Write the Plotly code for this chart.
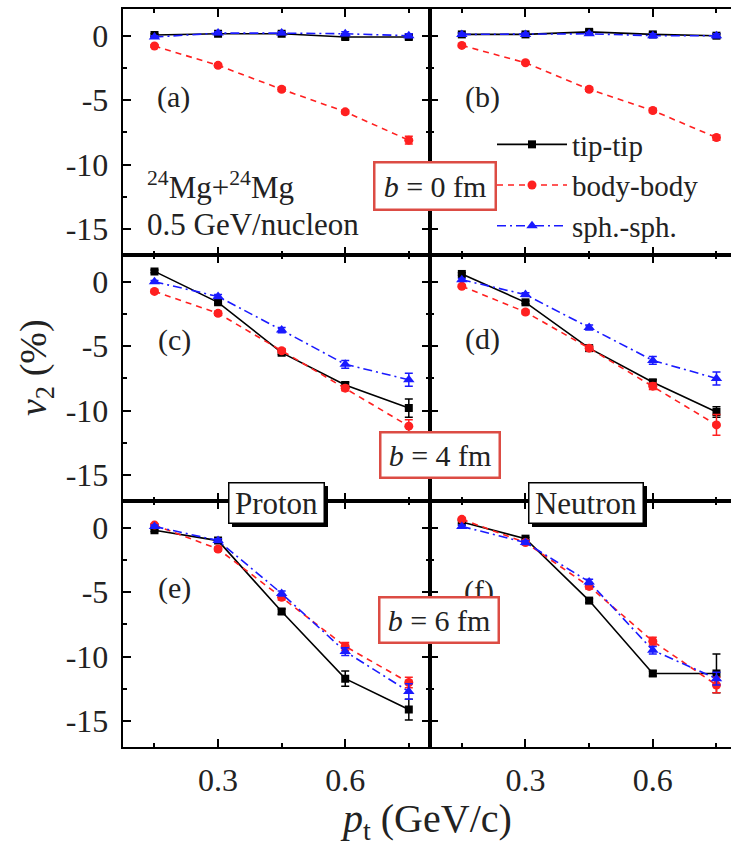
import plotly.graph_objects as go
from plotly.subplots import make_subplots

W, H = 731, 847

pt = [0.15, 0.30, 0.45, 0.60, 0.75]

# v2 (%), one list per panel and collision orientation
tip_a = [0.05, 0.15, 0.15, -0.1, -0.1]
body_a = [-0.8, -2.3, -4.15, -5.9, -8.1]
sph_a = [-0.1, 0.2, 0.2, 0.15, 0.0]

tip_b = [0.1, 0.1, 0.3, 0.1, 0.0]
body_b = [-0.75, -2.1, -4.15, -5.8, -7.9]
sph_b = [0.1, 0.1, 0.15, 0.0, 0.0]

tip_c = [0.8, -1.6, -5.5, -8.0, -9.8]
body_c = [-0.75, -2.45, -5.35, -8.25, -11.2]
sph_c = [0.0, -1.15, -3.75, -6.4, -7.6]

tip_d = [0.6, -1.6, -5.15, -7.8, -10.1]
body_d = [-0.35, -2.35, -5.15, -8.1, -11.1]
sph_d = [0.15, -1.0, -3.55, -6.1, -7.5]

tip_e = [-0.2, -1.0, -6.5, -11.7, -14.1]
body_e = [0.2, -1.65, -5.4, -9.2, -12.0]
sph_e = [0.1, -1.0, -5.1, -9.6, -12.7]

tip_f = [0.45, -0.85, -5.65, -11.3, -11.3]
body_f = [0.65, -1.15, -4.55, -8.8, -12.2]
sph_f = [0.1, -1.15, -4.2, -9.5, -11.7]

# error bars
err_tip = {"a": [0.1, 0.1, 0.1, 0.15, 0.15], "b": [0.1, 0.1, 0.15, 0.15, 0.15],
           "c": [0.1, 0.1, 0.15, 0.2, 0.7], "d": [0.1, 0.1, 0.15, 0.2, 0.4],
           "e": [0.1, 0.1, 0.2, 0.6, 0.8], "f": [0.1, 0.1, 0.15, 0.2, 1.5]}
err_body = {"a": [0.1, 0.1, 0.15, 0.15, 0.3], "b": [0.1, 0.1, 0.15, 0.15, 0.2],
            "c": [0.1, 0.15, 0.15, 0.2, 0.5], "d": [0.1, 0.15, 0.15, 0.25, 0.8],
            "e": [0.1, 0.15, 0.2, 0.3, 0.4], "f": [0.1, 0.15, 0.2, 0.3, 0.6]}
err_sph = {"a": [0.1, 0.1, 0.1, 0.15, 0.15], "b": [0.1, 0.1, 0.1, 0.15, 0.15],
           "c": [0.1, 0.15, 0.2, 0.3, 0.5], "d": [0.1, 0.15, 0.2, 0.3, 0.5],
           "e": [0.1, 0.15, 0.2, 0.3, 0.6], "f": [0.1, 0.15, 0.2, 0.3, 0.5]}

y_ticks = [-15, -10, -5, 0]
y_ticktext = ["-15", "-10", "-5", "0"]
x_ticks = [0.3, 0.6]
x_ticktext = ["0.3", "0.6"]

FONT = "Liberation Serif, Times New Roman, serif"


def px(x):
    return x / W


def py(y):
    return 1 - y / H


panels = [
    ("a", 1, 1, tip_a, body_a, sph_a),
    ("b", 1, 2, tip_b, body_b, sph_b),
    ("c", 2, 1, tip_c, body_c, sph_c),
    ("d", 2, 2, tip_d, body_d, sph_d),
    ("e", 3, 1, tip_e, body_e, sph_e),
    ("f", 3, 2, tip_f, body_f, sph_f),
]

fig = make_subplots(rows=3, cols=2, horizontal_spacing=0, vertical_spacing=0)

for key, r, c, tip, body, sph in panels:
    first = key == "a"
    fig.add_trace(go.Scatter(
        x=pt, y=tip, name="tip-tip", mode="lines+markers", showlegend=first,
        line=dict(color="black", width=1.6),
        marker=dict(symbol="square", size=8, color="black"),
        error_y=dict(type="data", array=err_tip[key], color="black", thickness=1.5, width=4),
    ), row=r, col=c)
    fig.add_trace(go.Scatter(
        x=pt, y=body, name="body-body", mode="lines+markers", showlegend=first,
        line=dict(color="#ff2020", width=1.6, dash="6px,5px"),
        marker=dict(symbol="circle", size=9, color="#ff2020"),
        error_y=dict(type="data", array=err_body[key], color="#ff2020", thickness=1.5, width=4),
    ), row=r, col=c)
    fig.add_trace(go.Scatter(
        x=pt, y=sph, name="sph.-sph.", mode="lines+markers", showlegend=first,
        line=dict(color="#1a1aff", width=1.6, dash="9px,4px,2px,4px"),
        marker=dict(symbol="triangle-up", size=10, color="#1a1aff"),
        error_y=dict(type="data", array=err_sph[key], color="#1a1aff", thickness=1.5, width=4),
    ), row=r, col=c)

# panel geometry in pixels
xl, xm, xr = 122.7, 430.0, 731.0
rows_px = [(9, 255), (255, 501), (501, 747)]
x_scale = 424.4  # px per GeV/c

for r, (top, bot) in enumerate(rows_px, start=1):
    for c in (1, 2):
        if c == 1:
            xdom = [px(xl), px(xm)]
            xrng = [0.075, 0.8]
        else:
            xdom = [px(xm), px(xr)]
            xrng = [0.075, 0.075 + (xr - xm) / x_scale]
        fig.update_xaxes(
            domain=xdom, range=xrng, row=r, col=c,
            showline=True, linecolor="black", linewidth=2, mirror="allticks",
            ticks="inside", ticklen=8, tickwidth=2, tickcolor="black",
            tickvals=x_ticks, ticktext=x_ticktext,
            minor=dict(ticks="inside", ticklen=4, tickwidth=1.5, tickcolor="black",
                       tickvals=[0.15, 0.45, 0.75]),
            showticklabels=(r == 3), showgrid=False, zeroline=False,
            tickfont=dict(size=32, color="#222", family=FONT),
            ticklabelstandoff=4, automargin=False,
        )
        fig.update_yaxes(
            domain=[py(bot), py(top)], range=[-17, 2.07], row=r, col=c,
            showline=True, linecolor="black", linewidth=2,
            mirror="allticks" if c == 1 else False,
            ticks="inside", ticklen=8, tickwidth=2, tickcolor="black",
            tickvals=y_ticks, ticktext=y_ticktext,
            minor=dict(ticks="inside", ticklen=4, tickwidth=1.5, tickcolor="black",
                       tickvals=[-12.5, -7.5, -2.5]),
            showticklabels=(c == 1), showgrid=False, zeroline=False,
            tickfont=dict(size=32, color="#222", family=FONT),
            ticklabelstandoff=6, automargin=False,
        )

ann = []
labels = [("(a)", 173, 97), ("(b)", 482, 97), ("(c)", 174, 340),
          ("(d)", 482, 339), ("(e)", 174, 588), ("(f)", 479, 591)]
for txt, x, y in labels:
    ann.append(dict(text=txt, x=px(x), y=py(y), xref="paper", yref="paper",
                    xanchor="center", yanchor="middle", showarrow=False,
                    font=dict(size=30, family=FONT, color="#222")))

ann.append(dict(text="<sup>24</sup>Mg+<sup>24</sup>Mg", x=px(145), y=py(186),
                xref="paper", yref="paper", xanchor="left", yanchor="middle",
                showarrow=False, font=dict(size=31, family=FONT, color="#222")))
ann.append(dict(text="0.5 GeV/nucleon", x=px(145), y=py(224),
                xref="paper", yref="paper", xanchor="left", yanchor="middle",
                showarrow=False, font=dict(size=31, family=FONT, color="#222")))

# impact parameter boxes (red outline)
for txt, x0, x1, y0, y1 in [("0", 374, 496, 162, 210), ("4", 380, 500, 432, 478),
                            ("6", 379, 499, 597, 643)]:
    ann.append(dict(text="<i>b</i> = " + txt + " fm", x=px((x0 + x1) / 2), y=py((y0 + y1) / 2),
                    xref="paper", yref="paper", xanchor="center", yanchor="middle",
                    showarrow=False, width=x1 - x0 - 3, height=y1 - y0 - 3, borderpad=0,
                    bgcolor="white", bordercolor="#dc4c44", borderwidth=2.5,
                    font=dict(size=30, family=FONT, color="#222")))

# Proton / Neutron boxes with drop shadow
shapes = []
for txt, x0, x1, y0, y1 in [("Proton", 228, 324, 482, 523), ("Neutron", 528, 643, 482, 523)]:
    shapes.append(dict(type="rect", xref="paper", yref="paper", layer="above",
                       x0=px(x0 + 4), x1=px(x1 + 4), y0=py(y1 + 4), y1=py(y0 + 4),
                       fillcolor="black", line=dict(width=0)))
    ann.append(dict(text=txt, x=px((x0 + x1) / 2), y=py((y0 + y1) / 2),
                    xref="paper", yref="paper", xanchor="center", yanchor="middle",
                    showarrow=False, width=x1 - x0 - 2, height=y1 - y0 - 2, borderpad=0,
                    bgcolor="white", bordercolor="black", borderwidth=1.5,
                    font=dict(size=31, family=FONT, color="#222")))

# axis titles
ann.append(dict(text="<i>v</i><sub>2</sub> (%)", x=px(36), y=py(368), xref="paper", yref="paper",
                xanchor="center", yanchor="middle", textangle=-90, showarrow=False,
                font=dict(size=38, family=FONT, color="#222")))
ann.append(dict(text="<i>p</i><sub>t</sub> (GeV/c)", x=px(426), y=py(821), xref="paper",
                yref="paper", xanchor="center", yanchor="middle", showarrow=False,
                font=dict(size=40, family=FONT, color="#222")))

fig.update_layout(
    width=W, height=H,
    margin=dict(l=0, r=0, t=0, b=0),
    paper_bgcolor="white", plot_bgcolor="white",
    font=dict(family=FONT, size=30, color="#222"),
    annotations=ann, shapes=shapes,
    legend=dict(x=px(492), y=py(119), xanchor="left", yanchor="top",
                bgcolor="rgba(0,0,0,0)", itemwidth=70, traceorder="normal",
                font=dict(size=29, family=FONT, color="#222")),
)

# page body has a default 8px margin; drop it so the figure sits at the window origin
fig.write_html("out.html", config={"displayModeBar": False},
               post_script="document.body.style.margin='0px';")
